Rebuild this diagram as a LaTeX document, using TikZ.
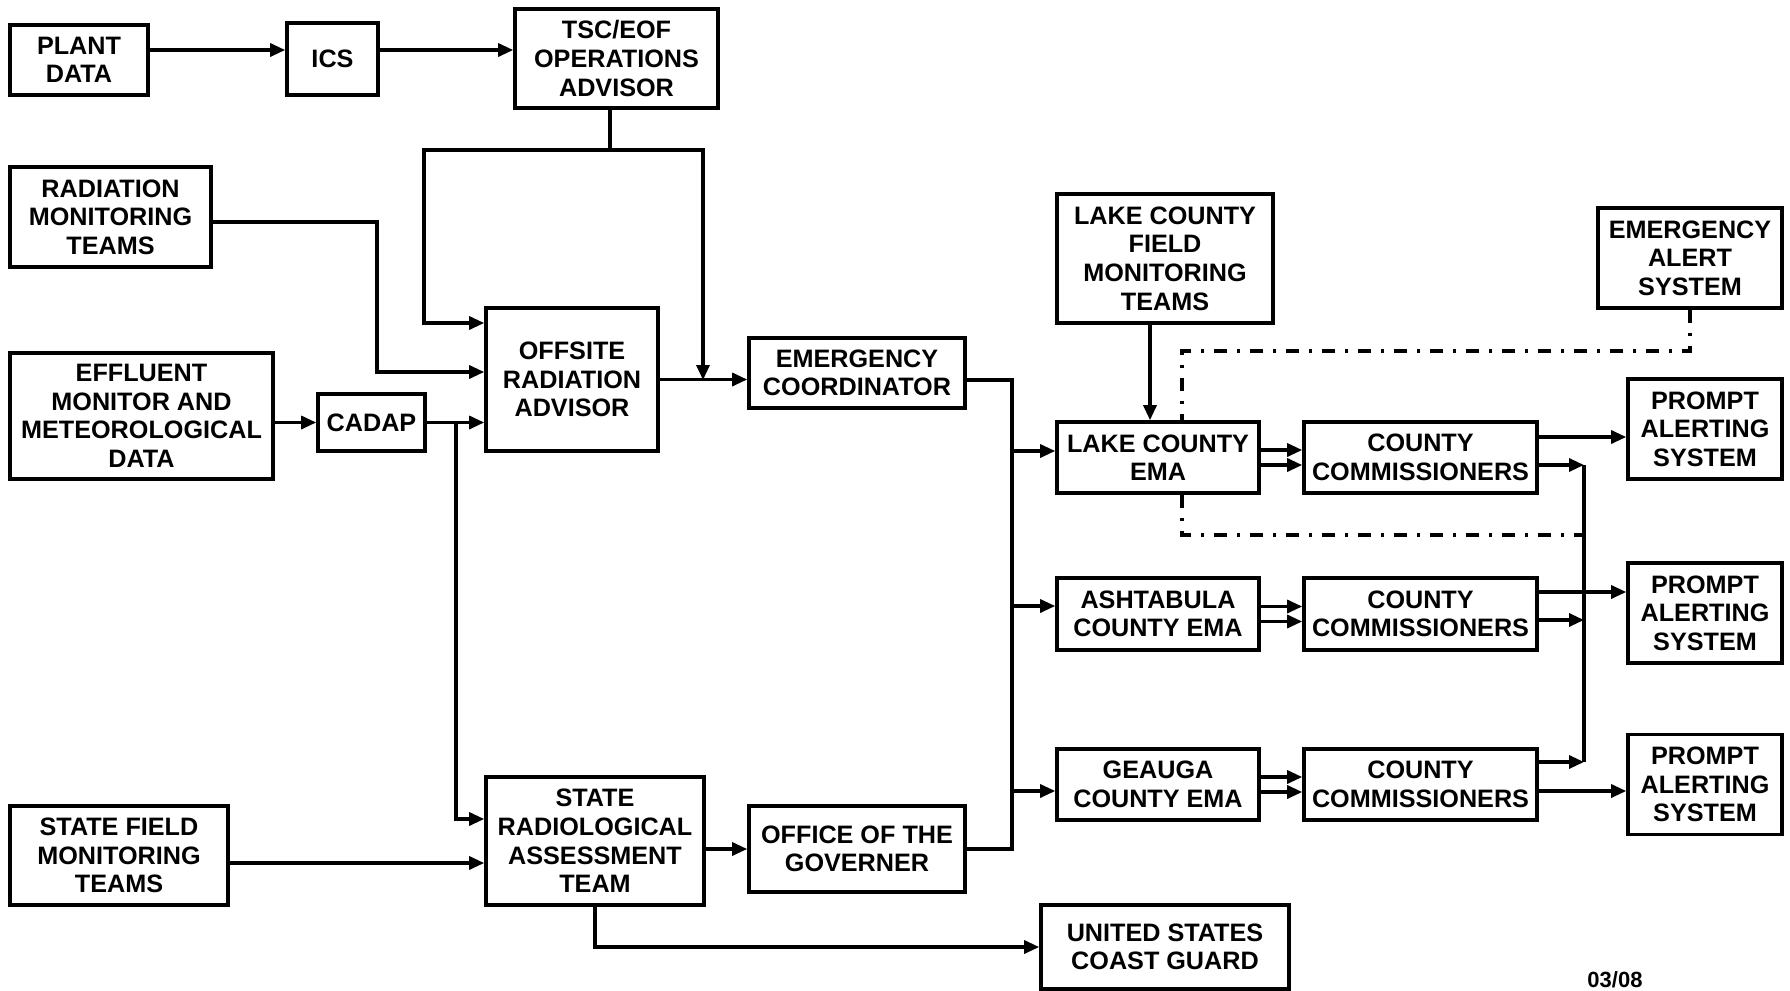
\documentclass[tikz,border=0pt]{standalone}
\usepackage{fontspec}
\setmainfont{Liberation Sans}
\usetikzlibrary{arrows.meta}

\tikzset{
  blk/.style 2 args={draw, line width=1.8pt, inner sep=0pt, align=center,
    minimum width=#1*0.5pt, minimum height=#2*0.5pt,
    font=\fontsize{12.6}{14.3}\selectfont\bfseries},
  ln/.style={line width=1.6pt},
  arr/.style={ln, -{Triangle[length=7.5pt,width=6.5pt]}},
  dd/.style={line width=1.6pt, dash pattern=on 6.5pt off 5pt on 1.5pt off 5pt}
}

\begin{document}
\begin{tikzpicture}[x=0.5pt,y=-0.5pt]
  \useasboundingbox (0,0) rectangle (1790,991);
  % left side
  \node[blk={138}{70}]  (plant)   at (79,60)      {PLANT\\DATA};
  \node[blk={91}{72}]   (ics)     at (332.5,59)   {ICS};
  \node[blk={203}{99}]  (tsc)     at (616.5,58.5) {TSC/EOF\\OPERATIONS\\ADVISOR};
  \node[blk={201}{100}] (radmon)  at (110.5,217)  {RADIATION\\MONITORING\\TEAMS};
  \node[blk={263}{126}] (effl)    at (141.5,416)  {EFFLUENT\\MONITOR AND\\METEOROLOGICAL\\DATA};
  \node[blk={107}{57}]  (cadap)   at (371.5,422.5) {CADAP};
  \node[blk={172}{143}] (offsite) at (572,379.5)  {OFFSITE\\RADIATION\\ADVISOR};
  \node[blk={216}{70}]  (emc)     at (857,373)    {EMERGENCY\\COORDINATOR};
  \node[blk={218}{99}]  (sfmt)    at (119,855.5)  {STATE FIELD\\MONITORING\\TEAMS};
  \node[blk={218}{128}] (srat)    at (595,841)    {STATE\\RADIOLOGICAL\\ASSESSMENT\\TEAM};
  \node[blk={216}{86}]  (gov)     at (857,849)    {OFFICE OF THE\\GOVERNER};
  \node[blk={248}{84}]  (uscg)    at (1165,947)   {UNITED STATES\\COAST GUARD};
  % county side
  \node[blk={216}{129}] (lcfmt)   at (1165,258.5) {LAKE COUNTY\\FIELD\\MONITORING\\TEAMS};
  \node[blk={184}{100}] (eas)     at (1690,258)   {EMERGENCY\\ALERT\\SYSTEM};
  \node[blk={202}{71}]  (lake)    at (1158,457.5) {LAKE COUNTY\\EMA};
  \node[blk={202}{72}]  (ash)     at (1158,614)   {ASHTABULA\\COUNTY EMA};
  \node[blk={202}{71}]  (gea)     at (1158,784.5) {GEAUGA\\COUNTY EMA};
  \node[blk={233}{71}]  (cc1)     at (1420.5,457.5) {COUNTY\\COMMISSIONERS};
  \node[blk={233}{72}]  (cc2)     at (1420.5,614)   {COUNTY\\COMMISSIONERS};
  \node[blk={233}{71}]  (cc3)     at (1420.5,784.5) {COUNTY\\COMMISSIONERS};
  \node[blk={154}{100}] (pas1)    at (1705,429)   {PROMPT\\ALERTING\\SYSTEM};
  \node[blk={154}{100}] (pas2)    at (1705,613)   {PROMPT\\ALERTING\\SYSTEM};
  \node[blk={154}{100}] (pas3)    at (1705,784.5) {PROMPT\\ALERTING\\SYSTEM};
  \node[font=\fontsize{11}{13}\selectfont\bfseries] (date) at (1615,980) {03/08};

  % top row
  \draw[arr] (plant.east |- 0,50) -- (ics.west |- 0,50);
  \draw[arr] (ics.east |- 0,50) -- (tsc.west |- 0,50);
  % tsc down to the advisor
  \coordinate (tscfork) at (610,150);
  \draw[ln] (tscfork |- tsc.south) -- (tscfork);
  \draw[arr] (tscfork) -- (424,150) -- (424,323) -- (offsite.west |- 0,323);
  \draw[arr] (tscfork) -- (703,150) -- (703,380);
  % inputs to the advisor
  \draw[arr] (radmon.east |- 0,222) -| (377,372) -- (offsite.west |- 0,372);
  \draw[arr] (effl.east |- cadap.west) -- (cadap.west);
  \draw[arr] (cadap.east) -- (offsite.west |- cadap.east);
  \coordinate (cadapfork) at (456,422.5);
  \draw[arr] (cadapfork) |- (srat.west |- 0,819);
  \draw[arr] (sfmt.east |- 0,863) -- (srat.west |- 0,863);
  \draw[arr] (srat.east |- gov.west) -- (gov.west);
  \draw[arr] (srat.south) |- (uscg.west);
  \draw[arr] (offsite.east) -- (emc.west |- offsite.east);
  % coordinator / governor bus
  \coordinate (bustop) at (1012,380);
  \coordinate (busbot) at (1012,849);
  \draw[ln] (emc.east |- bustop) -- (bustop) -- (busbot) -- (gov.east);
  \foreach \ema/\yy in {lake/451,ash/606,gea/791}
    \draw[arr] (1012,\yy) -- (\ema.west |- 0,\yy);
  \draw[arr] (1150,0 |- lcfmt.south) -- (1150,0 |- lake.north);
  % alert system (dash-dot)
  \draw[dd] (eas.south) -- (eas.south |- 0,351) -- (1182,351) -- (1182,0 |- lake.north);
  \draw[dd] (1182,0 |- lake.south) |- (1584,535);
  % county commissioners
  \foreach \ema/\com in {lake/cc1,ash/cc2,gea/cc3} {
    \draw[arr] ([yshift=3.75pt]\ema.east) -- ([yshift=3.75pt]\com.west);
    \draw[arr] ([yshift=-3.75pt]\ema.east) -- ([yshift=-3.75pt]\com.west);
  }
  \foreach \com/\pas/\yp/\yb in {cc1/pas1/437/465,cc2/pas2/592/620,cc3/pas3/791/762} {
    \draw[arr] (\com.east |- 0,\yp) -- (\pas.west |- 0,\yp);
    \draw[arr] (\com.east |- 0,\yb) -- (1584,\yb);
  }
  \draw[ln] (1584,465) -- (1584,762);
\end{tikzpicture}
\end{document}
